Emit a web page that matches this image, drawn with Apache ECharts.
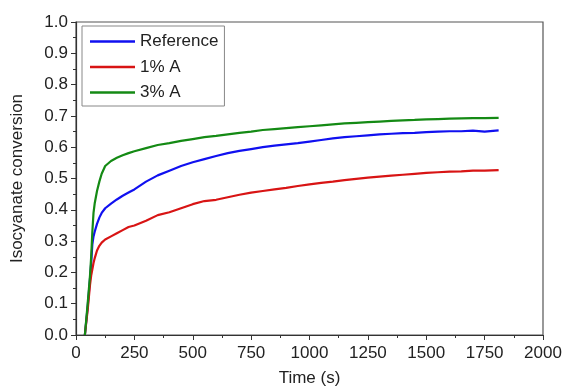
<!DOCTYPE html>
<html>
<head>
<meta charset="utf-8">
<script src="https://cdn.jsdelivr.net/npm/echarts@6/dist/echarts.min.js"></script>
<style>html,body{margin:0;padding:0;background:#fff;}#c{width:566px;height:392px;}</style>
</head>
<body>
<div id="c"></div>
<script>
const seriesNames = ['Reference', '1% A', '3% A'];
const time = [38, 50, 60, 65, 70, 75, 80, 90, 100, 110, 125, 150, 175, 200, 225, 250, 300, 350, 400, 450, 500, 550, 600, 650, 700, 750, 800, 850, 900, 950, 1000, 1050, 1100, 1150, 1200, 1250, 1300, 1350, 1400, 1450, 1500, 1550, 1600, 1650, 1700, 1750, 1810];
const reference = [0, 0.09, 0.18, 0.23, 0.29, 0.315, 0.33, 0.355, 0.375, 0.39, 0.405, 0.42, 0.433, 0.445, 0.455, 0.465, 0.49, 0.51, 0.525, 0.54, 0.552, 0.562, 0.572, 0.581, 0.588, 0.594, 0.6, 0.605, 0.609, 0.613, 0.618, 0.623, 0.628, 0.632, 0.635, 0.638, 0.641, 0.643, 0.645, 0.646, 0.648, 0.65, 0.651, 0.651, 0.653, 0.65, 0.654];
const oneA = [0, 0.08, 0.16, 0.19, 0.21, 0.23, 0.245, 0.27, 0.285, 0.295, 0.305, 0.315, 0.325, 0.335, 0.345, 0.35, 0.365, 0.383, 0.392, 0.405, 0.418, 0.428, 0.432, 0.44, 0.448, 0.455, 0.46, 0.465, 0.47, 0.476, 0.481, 0.486, 0.49, 0.495, 0.499, 0.503, 0.506, 0.509, 0.512, 0.515, 0.518, 0.52, 0.522, 0.523, 0.525, 0.525, 0.527];
const threeA = [0, 0.1, 0.19, 0.25, 0.33, 0.39, 0.42, 0.46, 0.49, 0.515, 0.54, 0.556, 0.566, 0.574, 0.581, 0.587, 0.597, 0.607, 0.613, 0.62, 0.626, 0.632, 0.636, 0.641, 0.646, 0.65, 0.655, 0.658, 0.661, 0.664, 0.667, 0.67, 0.673, 0.676, 0.678, 0.68, 0.682, 0.684, 0.686, 0.687, 0.689, 0.69, 0.691, 0.692, 0.693, 0.693, 0.694];
const colors = ['#1010f0', '#d81414', '#148a14'];

const pair = arr => time.map((t, i) => [t, arr[i]]);
const font = 'Liberation Sans, Arial, sans-serif';
const chart = echarts.init(document.getElementById('c'), null, {renderer: 'canvas'});
const axisCommon = {
  axisLine: {show: true, lineStyle: {color: '#333', width: 1.2}},
  axisTick: {show: true, inside: false, length: 5, lineStyle: {color: '#333'}},
  minorTick: {show: true, splitNumber: 2, length: 3, lineStyle: {color: '#333'}},
  splitLine: {show: false},
  nameTextStyle: {fontFamily: font, fontSize: 17, color: '#222'}
};
chart.setOption({
  animation: false,
  color: colors,
  grid: {left: 76, right: 23, top: 22, bottom: 55, show: true, borderColor: '#555', borderWidth: 1.2},
  legend: {
    orient: 'vertical', left: 82, top: 26,
    data: seriesNames.map(n => ({name: n, icon: 'rect'})),
    itemWidth: 45, itemHeight: 2.5, itemGap: 8.5,
    padding: [7, 6, 5, 8],
    borderColor: '#888', borderWidth: 1,
    textStyle: {fontFamily: font, fontSize: 17, color: '#222', lineHeight: 17}
  },
  xAxis: Object.assign({}, axisCommon, {
    type: 'value', min: 0, max: 2000, interval: 250,
    name: 'Time (s)', nameLocation: 'middle', nameGap: 35,
    axisLabel: {fontFamily: font, fontSize: 17, color: '#222', margin: 10, formatter: v => String(v)}
  }),
  yAxis: Object.assign({}, axisCommon, {
    type: 'value', min: 0, max: 1, interval: 0.1,
    name: 'Isocyanate conversion', nameLocation: 'middle', nameGap: 50,
    axisLabel: {fontFamily: font, fontSize: 17, color: '#222', margin: 8, formatter: v => v.toFixed(1)}
  }),
  series: [
    {name: seriesNames[0], type: 'line', data: pair(reference), symbol: 'none', lineStyle: {width: 2.2, color: colors[0]}},
    {name: seriesNames[1], type: 'line', data: pair(oneA), symbol: 'none', lineStyle: {width: 2.2, color: colors[1]}},
    {name: seriesNames[2], type: 'line', data: pair(threeA), symbol: 'none', lineStyle: {width: 2.2, color: colors[2]}}
  ]
});
</script>
</body>
</html>
